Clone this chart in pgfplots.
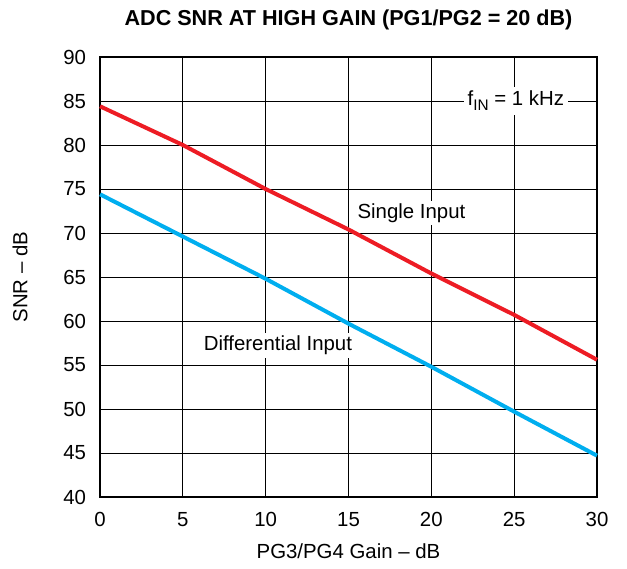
\documentclass[border=0pt]{standalone}
\usepackage{fontspec}
\setmainfont{Liberation Sans}
\usepackage{pgfplots}
\pgfplotsset{compat=1.18}
\definecolor{snrred}{RGB}{237,28,36}
\definecolor{snrblue}{RGB}{0,174,239}
\newcommand{\lbl}{\fontsize{15.3}{18}\selectfont}
\newcommand{\ttl}{\fontsize{16.2}{19}\selectfont\bfseries}
\begin{document}
\begin{tikzpicture}
\begin{axis}[
  at={(0pt,0pt)}, anchor=south west,
  width=372.75pt, height=330pt, scale only axis,
  xmin=0, xmax=30, ymin=40, ymax=90,
  xtick={0,5,...,30}, ytick={40,45,...,90},
  grid=major,
  major grid style={black, line width=0.7pt},
  major tick length=0pt,
  axis line style={black, line width=2pt},
  tick label style={font=\lbl},
  /pgf/number format/assume math mode=true,
  xticklabel style={yshift=-8pt},
  yticklabel style={xshift=-7pt},
  clip=false,
]
\addplot[snrred, line width=3pt] coordinates {
  (0,84.4) (5,80) (10,75) (15,70.4) (20,65.4) (25,60.7) (30,55.6)};
\addplot[snrblue, line width=3pt] coordinates {
  (0,74.4) (5,69.6) (10,64.8) (15,59.7) (20,54.8) (25,49.7) (30,44.7)};
\node[fill=white, inner sep=3pt, font=\lbl] at (axis cs:25.1,85)
  {f\raisebox{-0.45ex}{\fontsize{11.5}{12}\selectfont IN} = 1 kHz};
\node[fill=white, inner sep=2pt, font=\lbl] at (axis cs:18.8,72.3) {Single Input};
\node[fill=white, inner sep=2pt, font=\lbl] at (axis cs:10.74,57.2) {Differential Input};
\node[font=\ttl] at ([yshift=27.75pt]rel axis cs:0.5,1) {ADC SNR AT HIGH GAIN (PG1/PG2 = 20 dB)};
\node[font=\lbl] at ([yshift=-40.5pt]rel axis cs:0.5,0) {PG3/PG4 Gain – dB};
\node[font=\lbl, rotate=90] at ([xshift=-60pt]rel axis cs:0,0.5) {SNR – dB};
\end{axis}
\pgfresetboundingbox
\path (-75pt,-53.25pt) rectangle (395.25pt,372.75pt);
\end{tikzpicture}
\end{document}
